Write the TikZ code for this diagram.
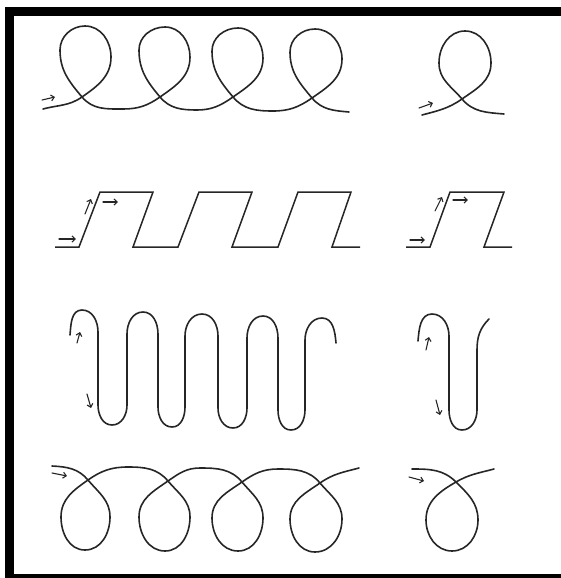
\documentclass[tikz,border=0pt]{standalone}
\usetikzlibrary{arrows.meta}
\begin{document}
\begin{tikzpicture}[x=1pt,y=1pt,
  curve/.style={line width=1.6pt, line cap=round, line join=round, black!85},
  wave/.style={line width=1.5pt, line join=miter, black!85},
  tick/.style={line width=1.1pt, black!85, line cap=round, -{Straight Barb[length=3.2pt,width=6pt]}}]
\useasboundingbox (0,0) rectangle (561,-578);
% frame
\fill[black] (5,-7) rectangle (561,-16);
\fill[black] (5,-7) rectangle (14,-578);
\fill[black] (5,-574) rectangle (561,-578);
% ---- Row 1: loops upward
\draw[curve] (43,-109) to[out=15,in=215] (82,-97) to[out=35,in=-90] (111,-57) to[out=90,in=0] (85,-26) to[out=180,in=90] (60,-50) to[out=-90,in=130] (82,-97)
  to[out=-50,in=180] (123,-109) to[out=0,in=215] (160,-97) to[out=35,in=-90] (190,-57) to[out=90,in=0] (165,-27) to[out=180,in=90] (139,-50) to[out=-90,in=130] (160,-97)
  to[out=-50,in=180] (197,-110) to[out=0,in=215] (233,-97) to[out=35,in=-90] (263,-58) to[out=90,in=0] (238,-28) to[out=180,in=90] (212,-51) to[out=-90,in=130] (233,-97)
  to[out=-50,in=180] (273,-111) to[out=0,in=215] (312,-98) to[out=35,in=-90] (342,-59) to[out=90,in=0] (315,-29) to[out=180,in=90] (290,-52) to[out=-90,in=130] (312,-98)
  to[out=-50,in=175] (349,-112);
\draw[tick] (42,-100) -- (55,-97);
\draw[curve] (422,-115) to[out=15,in=215] (462,-99) to[out=35,in=-90] (491,-63) to[out=90,in=0] (465,-31) to[out=180,in=90] (439,-63) to[out=-90,in=130] (462,-99) to[out=-50,in=175] (504,-114);
\draw[tick] (419,-108) -- (433,-103);
% ---- Row 2: square wave
\draw[wave] (55,-247) -- (79,-247) -- (100,-192) -- (153,-192) -- (133,-247) -- (178,-247) -- (199,-192) -- (252,-192) -- (232,-247) -- (278,-247) -- (298,-192) -- (351,-192) -- (332,-247) -- (360,-247);
\draw[tick] (59,-239) -- (76,-239);
\draw[tick] (85,-214) -- (91,-199);
\draw[tick] (103,-202) -- (118,-202);
\draw[wave] (406,-247) -- (430,-247) -- (450,-192) -- (504,-192) -- (484,-247) -- (512,-247);
\draw[tick] (410,-240) -- (425,-240);
\draw[tick] (435,-211) -- (442,-197);
\draw[tick] (453,-200) -- (468,-200);
% ---- Row 3: serpentine
\draw[curve] (70,-335) to[out=85,in=180] (82,-310) to[out=0,in=90] (98,-332) -- (98,-405) to[out=-90,in=180] (112,-425) to[out=0,in=-90] (127,-405) -- (127,-334)
  to[out=90,in=180] (143,-312) to[out=0,in=90] (158,-334) -- (158,-407) to[out=-90,in=180] (172,-427) to[out=0,in=-90] (185,-407) -- (185,-336)
  to[out=90,in=180] (202,-314) to[out=0,in=90] (218,-336) -- (218,-408) to[out=-90,in=180] (233,-428) to[out=0,in=-90] (247,-408) -- (247,-338)
  to[out=90,in=180] (263,-316) to[out=0,in=90] (278,-338) -- (278,-410) to[out=-90,in=180] (291,-430) to[out=0,in=-90] (305,-410) -- (305,-340)
  to[out=90,in=180] (322,-318) to[out=0,in=95] (336,-343);
\draw[tick] (77,-343) -- (80,-332);
\draw[tick] (87,-394) -- (91,-408);
\draw[curve] (418,-341) to[out=85,in=180] (432,-314) to[out=0,in=90] (449,-336) -- (449,-410) to[out=-90,in=180] (462,-430) to[out=0,in=-90] (477,-410) -- (477,-350) to[out=90,in=225] (489,-319);
\draw[tick] (426,-350) -- (429,-337);
\draw[tick] (436,-400) -- (440,-415);
% ---- Row 4: loops downward
\draw[curve] (52,-466) to[out=-3,in=130] (88,-480) to[out=-50,in=90] (110,-517) to[out=-90,in=0] (85,-550) to[out=180,in=-90] (61,-517) to[out=90,in=215] (88,-480)
  to[out=35,in=180] (128,-467) to[out=0,in=130] (168,-481) to[out=-50,in=90] (190,-517) to[out=-90,in=0] (165,-551) to[out=180,in=-90] (139,-517) to[out=90,in=215] (168,-481)
  to[out=35,in=180] (200,-468) to[out=0,in=130] (242,-482) to[out=-50,in=90] (263,-518) to[out=-90,in=0] (238,-551) to[out=180,in=-90] (212,-518) to[out=90,in=215] (242,-482)
  to[out=35,in=180] (278,-469) to[out=0,in=130] (320,-483) to[out=-50,in=90] (342,-519) to[out=-90,in=0] (315,-552) to[out=180,in=-90] (290,-519) to[out=90,in=215] (320,-483)
  to[out=35,in=195] (359,-468);
\draw[tick] (52,-473) -- (67,-476);
\draw[curve] (412,-469) to[out=0,in=135] (456,-482) to[out=-45,in=90] (478,-520) to[out=-90,in=0] (452,-551) to[out=180,in=-90] (426,-520) to[out=90,in=210] (456,-482) to[out=30,in=195] (494,-469);
\draw[tick] (409,-477) -- (424,-481);
\end{tikzpicture}
\end{document}
